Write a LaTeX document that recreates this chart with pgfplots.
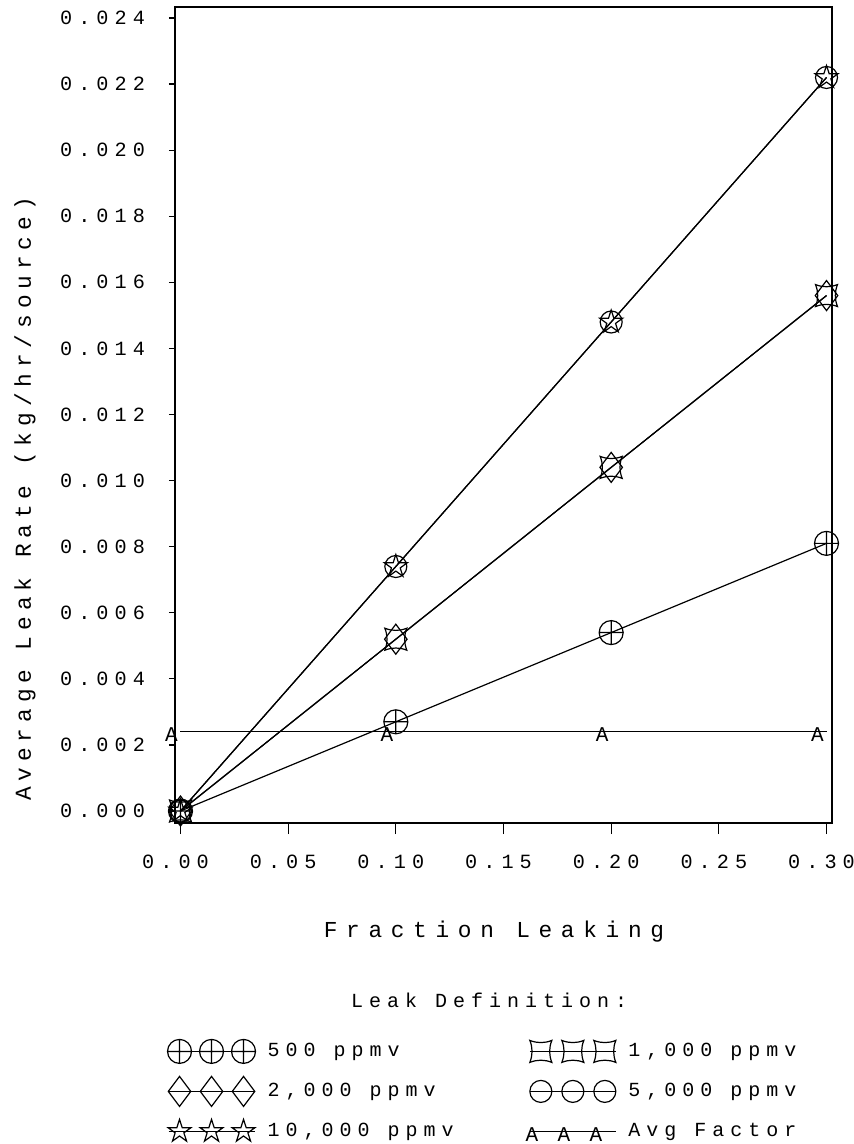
\documentclass[border=0pt]{standalone}
\usepackage{fontspec}
\setmainfont{Liberation Mono}
\newfontfamily\tickfont{Liberation Mono}[LetterSpace=30]
\newfontfamily\labfont{Liberation Mono}[LetterSpace=38]
\newfontfamily\ylabfont{Liberation Mono}[LetterSpace=26]
\newfontfamily\legfont{Liberation Mono}[LetterSpace=30]
\usepackage{pgfplots}
\usepackage{pgfplotstable}
\pgfplotsset{compat=1.18}

\pgfdeclareplotmark{csq}{%
  \pgfpathmoveto{\pgfqpoint{-\pgfplotmarksize}{-\pgfplotmarksize}}%
  \pgfpathquadraticcurveto{\pgfqpoint{0pt}{-0.6\pgfplotmarksize}}{\pgfqpoint{\pgfplotmarksize}{-\pgfplotmarksize}}%
  \pgfpathquadraticcurveto{\pgfqpoint{0.6\pgfplotmarksize}{0pt}}{\pgfqpoint{\pgfplotmarksize}{\pgfplotmarksize}}%
  \pgfpathquadraticcurveto{\pgfqpoint{0pt}{0.6\pgfplotmarksize}}{\pgfqpoint{-\pgfplotmarksize}{\pgfplotmarksize}}%
  \pgfpathquadraticcurveto{\pgfqpoint{-0.6\pgfplotmarksize}{0pt}}{\pgfqpoint{-\pgfplotmarksize}{-\pgfplotmarksize}}%
  \pgfpathclose\pgfusepathqstroke}

\pgfdeclareplotmark{ostar}{%
  \pgfpathmoveto{\pgfqpoint{0pt}{\pgfplotmarksize}}%
  \pgfpathlineto{\pgfqpoint{-0.2245\pgfplotmarksize}{0.3090\pgfplotmarksize}}%
  \pgfpathlineto{\pgfqpoint{-0.9511\pgfplotmarksize}{0.3090\pgfplotmarksize}}%
  \pgfpathlineto{\pgfqpoint{-0.3633\pgfplotmarksize}{-0.1180\pgfplotmarksize}}%
  \pgfpathlineto{\pgfqpoint{-0.5878\pgfplotmarksize}{-0.8090\pgfplotmarksize}}%
  \pgfpathlineto{\pgfqpoint{0pt}{-0.382\pgfplotmarksize}}%
  \pgfpathlineto{\pgfqpoint{0.5878\pgfplotmarksize}{-0.8090\pgfplotmarksize}}%
  \pgfpathlineto{\pgfqpoint{0.3633\pgfplotmarksize}{-0.1180\pgfplotmarksize}}%
  \pgfpathlineto{\pgfqpoint{0.9511\pgfplotmarksize}{0.3090\pgfplotmarksize}}%
  \pgfpathlineto{\pgfqpoint{0.2245\pgfplotmarksize}{0.3090\pgfplotmarksize}}%
  \pgfpathclose\pgfusepathqstroke}

\pgfplotstableread{
x y
0.00 0.0000
0.10 0.0027
0.20 0.0054
0.30 0.0081
}\tabA
\pgfplotstableread{
x y
0.00 0.0000
0.10 0.0052
0.20 0.0104
0.30 0.0156
}\tabB
\pgfplotstableread{
x y
0.00 0.0000
0.10 0.0052
0.20 0.0104
0.30 0.0156
}\tabC
\pgfplotstableread{
x y
0.00 0.0000
0.10 0.0074
0.20 0.0148
0.30 0.0222
}\tabD
\pgfplotstableread{
x y
0.00 0.0000
0.10 0.0074
0.20 0.0148
0.30 0.0222
}\tabE
\pgfplotstableread{
x y
0.00 0.0024
0.10 0.0024
0.20 0.0024
0.30 0.0024
}\tabF

\begin{document}
\begin{tikzpicture}
\path[use as bounding box] (0pt,0pt) rectangle (427pt,-572pt);
\begin{axis}[
  at={(87.5pt,-411.5pt)}, anchor=south west,
  scale only axis, width=328.5pt, height=408pt,
  xmin=-0.00255, xmax=0.30255, ymin=-0.000363, ymax=0.024333,
  clip=false,
  axis line style={line width=0.6pt},
  tick align=outside, xtick pos=bottom, ytick pos=left,
  major tick length=3pt,
  tick style={line width=0.6pt, black},
  xtick style={draw=none},
  ytick={0,0.002,0.004,0.006,0.008,0.010,0.012,0.014,0.016,0.018,0.020,0.022,0.024},
  xtick={0,0.05,0.10,0.15,0.20,0.25,0.30},
  scaled y ticks=false, scaled x ticks=false,
  yticklabel={\pgfmathprintnumber[fixed,fixed zerofill,precision=3,assume math mode=true]{\tick}},
  xticklabel={\pgfmathprintnumber[fixed,fixed zerofill,precision=2,assume math mode=true]{\tick}},
  yticklabel style={font=\tickfont\fontsize{10.1pt}{12pt}\selectfont, anchor=east, xshift=-8.5pt},
  xticklabel style={font=\tickfont\fontsize{10.1pt}{12pt}\selectfont, anchor=north, yshift=-9.5pt, xshift=-2.5pt},
  xlabel={Fraction Leaking},
  ylabel={Average Leak Rate (kg/hr/source)},
  xlabel style={font=\labfont\fontsize{11.4pt}{13.7pt}\selectfont, at={(rel axis cs:0.4855,-0.1336)}, anchor=center},
  ylabel style={font=\ylabfont\fontsize{11.4pt}{13.7pt}\selectfont, at={(rel axis cs:-0.2283,0.397)}, anchor=center},
  legend columns=2,
  legend cell align=left,
  legend style={at={(rel axis cs:-0.012,-0.2598)}, anchor=north west, draw=none, fill=none,
    inner sep=0pt, font=\legfont\fontsize{10pt}{12pt}\selectfont,
    nodes={inner sep=0pt}, row sep=4pt,
    /tikz/every odd column/.append style={column sep=6pt},
    /tikz/every even column/.append style={column sep=36pt}},
  legend image code/.code={
    \path[draw=none,fill=none] (0pt,-8pt) rectangle (43pt,8pt);
    \draw[#1,mark=none] (0pt,0pt) -- (43pt,0pt);
    \draw[#1,mark repeat=1] plot coordinates {(5.5pt,0pt) (21.5pt,0pt) (37.5pt,0pt)};
  },
]
\addplot[black, line width=0.6pt, mark=oplus, mark size=6pt] table[x=x,y=y] {\tabA};
\addlegendentry{500 ppmv}
\addplot[black, line width=0.6pt, mark=csq, mark size=5.5pt] table[x=x,y=y] {\tabB};
\addlegendentry{1,000 ppmv}
\addplot[black, line width=0.6pt, mark=diamond, mark size=7.5pt] table[x=x,y=y] {\tabC};
\addlegendentry{2,000 ppmv}
\addplot[black, line width=0.6pt, mark=o, mark size=5.5pt] table[x=x,y=y] {\tabD};
\addlegendentry{5,000 ppmv}
\addplot[black, line width=0.6pt, mark=ostar, mark size=6pt] table[x=x,y=y] {\tabE};
\addlegendentry{10,000 ppmv}
\addplot[black, line width=0.6pt, mark=text,
  text mark={\tickfont\fontsize{10.5pt}{12pt}\selectfont A},
  mark options={xshift=-4.5pt, yshift=-1.5pt}] table[x=x,y=y] {\tabF};
\addlegendentry{Avg Factor}
\node[font=\legfont\fontsize{10pt}{12pt}\selectfont] at (rel axis cs:0.478,-0.2169) {Leak Definition:};
\end{axis}
\begin{axis}[
  at={(87.5pt,-411.5pt)}, anchor=south west,
  scale only axis, width=328.5pt, height=408pt,
  xmin=-0.00255, xmax=0.30255, ymin=-0.000363, ymax=0.024333,
  axis line style={draw=none},
  tick align=outside, xtick pos=bottom,
  major tick length=5.5pt,
  tick style={line width=0.6pt, black},
  ytick=\empty,
  xtick={0,0.05,0.10,0.15,0.20,0.25,0.30},
  xticklabels={},
]
\end{axis}
\end{tikzpicture}
\end{document}
